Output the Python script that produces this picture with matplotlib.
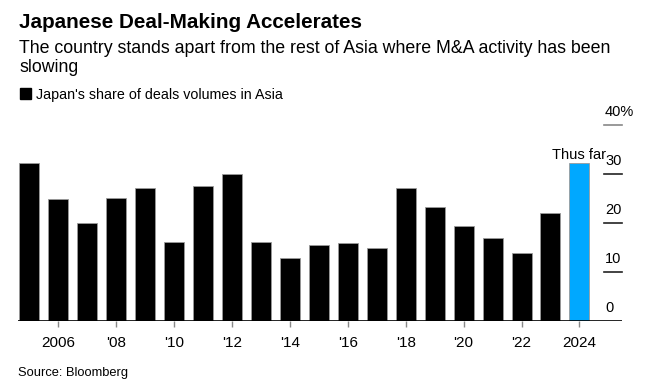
import matplotlib.pyplot as plt
import matplotlib.transforms as mtransforms
import numpy as np

plt.rcParams['font.family'] = ['Liberation Sans', 'DejaVu Sans']

years = list(range(2005, 2025))
share = [32.2, 24.9, 19.9, 25.0, 27.1, 16.1, 27.6, 29.9, 16.0, 12.9,
         15.5, 15.9, 14.8, 27.1, 23.3, 19.3, 17.0, 13.9, 22.0, 32.2]
tick_years = [2006, 2008, 2010, 2012, 2014, 2016, 2018, 2020, 2022, 2024]
tick_labels = ['2006', "'08", "'10", "'12", "'14", "'16", "'18", "'20", "'22", '2024']
y_ticks = [0, 10, 20, 30, 40]
y_labels = ['0', '10', '20', '30', '40%']

W, H = 648, 387
fig = plt.figure(figsize=(W / 100, H / 100), dpi=100)

# axes placed in pixel terms: x 18..622, y 0 at 321, 40 at 124.7
left, right = 18, 622
y0, y40 = 321, 124.7
ax = fig.add_axes([left / W, 1 - y0 / H, (right - left) / W, (y0 - y40) / H])
ax.set_ylim(0, 40)
ax.set_xlim(2004.61, 2025.47)

colors = ['#000000'] * (len(years) - 1) + ['#00a8ff']
ax.bar(years, share, width=0.69, color=colors, edgecolor='#9a9a9a', linewidth=0.6, zorder=2)

for s in ax.spines.values():
    s.set_visible(False)
ax.axhline(0, color='black', linewidth=1.2, zorder=3)

ax.set_yticks([])
ax.set_xticks(tick_years)
ax.set_xticklabels(tick_labels, fontsize=11)
ax.tick_params(axis='x', length=4, width=1, color='#888888', pad=7)

# short right-hand tick lines with labels above
trans = mtransforms.blended_transform_factory(ax.transAxes, ax.transData)
for v, lab in zip(y_ticks, y_labels):
    if v > 0:
        ax.plot([0.970, 1.0], [v, v], transform=trans, clip_on=False,
                color='#888888' if v == 40 else '#222222', linewidth=1.2)
    ax.text(0.972, v + 1.2, lab, transform=trans, ha='left', va='bottom', fontsize=10.5)

ax.text(2024 - 0.03, share[-1] + 0.2, 'Thus far', ha='center', va='bottom', fontsize=10.5)

fig.text(19 / W, 1 - 28 / H, 'Japanese Deal-Making Accelerates', fontsize=14.9,
         fontweight='bold', va='baseline')
fig.text(19 / W, 1 - 53 / H, 'The country stands apart from the rest of Asia where M&A activity has been',
         fontsize=12.8, va='baseline')
fig.text(19 / W, 1 - 72.5 / H, 'slowing', fontsize=12.8, va='baseline')
fig.patches.append(plt.Rectangle((20 / W, 1 - 99 / H), 11 / W, 11 / H,
                                 transform=fig.transFigure, color='black'))
fig.text(36 / W, 1 - 99 / H, "Japan's share of deals volumes in Asia", fontsize=10.3, va='baseline')
fig.text(18 / W, 1 - 376 / H, 'Source: Bloomberg', fontsize=9.3, va='baseline')

fig.savefig('out.png', dpi=100)
